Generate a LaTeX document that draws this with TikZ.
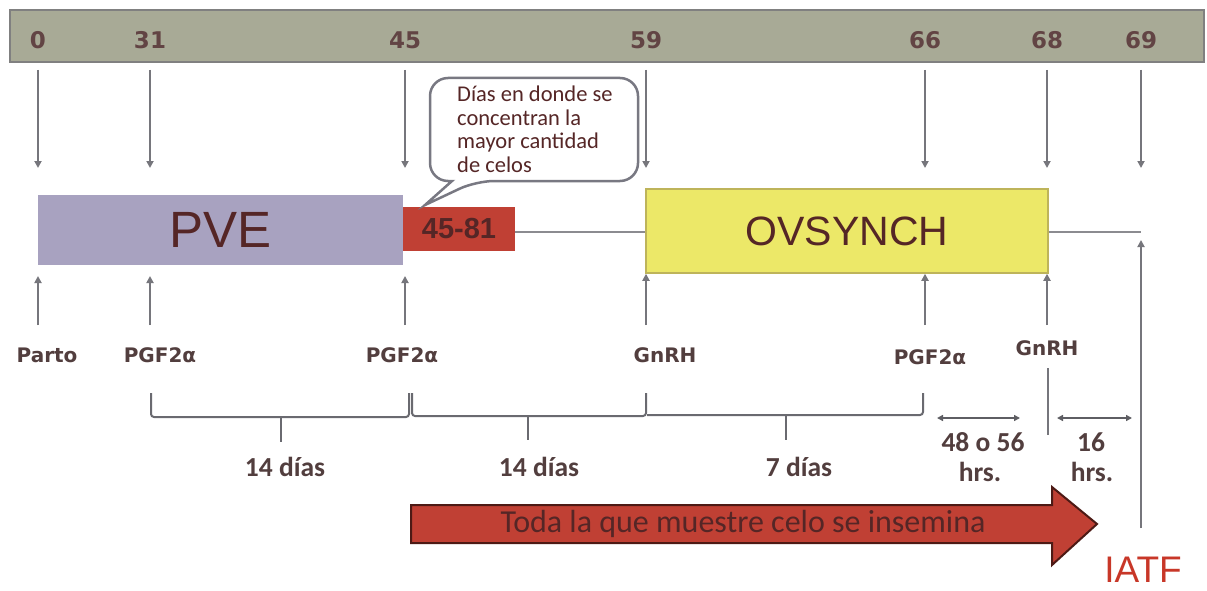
\documentclass[tikz,border=0pt]{standalone}
\usepackage{fontspec}
\setmainfont{Liberation Sans}
\newfontfamily\dvs{DejaVu Sans}
\newfontfamily\calib{Carlito}
\usetikzlibrary{arrows.meta}
\definecolor{barfill}{RGB}{168,170,150}
\definecolor{bardraw}{RGB}{128,128,128}
\definecolor{pvefill}{RGB}{168,162,192}
\definecolor{redfill}{RGB}{192,64,52}
\definecolor{yelfill}{RGB}{236,232,104}
\definecolor{yeldraw}{RGB}{190,180,90}
\definecolor{txtbrown}{RGB}{85,38,38}
\definecolor{labtxt}{RGB}{82,62,62}
\definecolor{numtxt}{RGB}{98,68,68}
\definecolor{arrgray}{RGB}{118,118,124}
\definecolor{iatfred}{RGB}{200,55,40}
\definecolor{callgray}{RGB}{120,120,130}
\begin{document}
\begin{tikzpicture}[x=1pt,y=-1pt,
  num/.style={font=\dvs\bfseries\fontsize{23}{27}\selectfont, text=numtxt},
  lab/.style={font=\dvs\bfseries\fontsize{20}{24}\selectfont, text=labtxt},
  dlab/.style={font=\calib\bfseries\fontsize{27.5}{31}\selectfont, text=labtxt},
  varr/.style={draw=arrgray, line width=1.8pt, -{Triangle[length=7pt,width=7pt]}},
  conn/.style={draw=arrgray!85!white, line width=2.6pt},
  bracestyle/.style={draw=arrgray!90!black, line width=2pt, rounded corners=3pt},
  dbl/.style={draw=arrgray!80!black, line width=1.6pt, {Triangle[length=6pt,width=6pt]}-{Triangle[length=6pt,width=6pt]}},
  box/.style={rectangle, inner sep=0pt}
]
\fill[white] (0,0) rectangle (1207,591);
\useasboundingbox (0,0) rectangle (1207,591);

% top bar
\node[box, fill=barfill, draw=bardraw, line width=2.5pt, minimum width=1194pt, minimum height=52pt] (bar) at (607,36) {};
\foreach \x/\t/\n in {38/0/a,150/31/b,405/45/c,646/59/d,925/66/e,1047/68/f,1141/69/g}{
  \node[num] (n\n) at (\x,40) {\t};
  \coordinate (ds\n) at (\x,70);
  \coordinate (de\n) at (\x,168);
  \draw[varr] (ds\n) -- (de\n);
}

% boxes
\node[box, fill=pvefill, minimum width=365pt, minimum height=70pt,
      font=\fontsize{51}{56}\selectfont, text=txtbrown] (pve) at (220.5,230) {PVE};
\node[box, fill=redfill, minimum width=112pt, minimum height=44pt,
      font=\bfseries\fontsize{29}{32}\selectfont, text=txtbrown] (red) at (459,229) {45-81};
\node[box, fill=yelfill, draw=yeldraw, line width=1.5pt, minimum width=402pt, minimum height=84pt,
      font=\fontsize{41}{46}\selectfont, text=txtbrown] (ovs) at (847,231) {OVSYNCH};

\coordinate (lineend) at (1141,232);
\draw[conn] (red.east |- 0,232) -- (ovs.west |- 0,232);
\draw[conn] (ovs.east |- 0,232) -- (lineend);

% callout
\draw[draw=callgray, fill=white, line width=2.5pt]
  (425,205) -- (452,181) [rounded corners=18pt] -- (430,181) -- (430,78) -- (638,78) -- (638,181) -- (476,181) [sharp corners] -- cycle;
\node[anchor=north west, align=left, inner sep=0pt, text=txtbrown,
      font=\calib\fontsize{22.5}{23.4}\selectfont] (callout) at (457,86)
  {Días en donde se\\concentran la\\mayor cantidad\\de celos};

% up arrows and labels
\foreach \x/\n in {38/a,150/b,405/c}{
  \coordinate (us\n) at (\x,325);
  \coordinate (ue\n) at (\x,276);
  \draw[varr] (us\n) -- (ue\n);
}
\foreach \x/\n in {646/d,925/e,1047/f}{
  \coordinate (us\n) at (\x,325);
  \draw[varr] (us\n) -- (us\n |- ovs.south);
}
\node[lab] (parto) at (47,355) {Parto};
\node[lab] (pgf1) at (160,355) {PGF2α};
\node[lab] (pgf2) at (402,355) {PGF2α};
\node[lab] (gnrh1) at (665,355) {GnRH};
\node[lab] (pgf3) at (930,357) {PGF2α};
\node[lab] (gnrh2) at (1047,348) {GnRH};

\coordinate (gl1) at (1048,368);
\coordinate (gl2) at (1048,435);
\draw[draw=arrgray, line width=1.8pt] (gl1) -- (gl2);

% braces
\draw[bracestyle] (151,393) -- (151,417) -- (409,417) -- (409,393);
\draw[bracestyle] (281,417) -- (281,442);
\draw[bracestyle] (412,393) -- (412,416) -- (646,416) -- (646,393);
\draw[bracestyle] (528,416) -- (528,440);
\draw[bracestyle] (923,393) -- (923,415) -- (647,415);
\draw[bracestyle] (786,415) -- (786,440);

\node[dlab] (d14a) at (285,467) {14 días};
\node[dlab] (d14b) at (539,467) {14 días};
\node[dlab] (d7) at (799,467) {7 días};

% hour spans
\coordinate (h1a) at (937,418);
\coordinate (h1b) at (1020,418);
\coordinate (h2a) at (1057,418);
\coordinate (h2b) at (1132,418);
\draw[dbl] (h1a) -- (h1b);
\draw[dbl] (h2a) -- (h2b);
\node[dlab] (h48) at (983,442) {48 o 56};
\node[dlab] (hrs1) at (980,472) {hrs.};
\node[dlab] (h16) at (1091,442) {16};
\node[dlab] (hrs2) at (1092,472) {hrs.};

% big arrow
\draw[fill=redfill, draw=black!60!redfill, line width=2pt]
  (411,505) -- (1052,505) -- (1052,487) -- (1097,524) -- (1052,565) -- (1052,543) -- (411,543) -- cycle;
\node[text=txtbrown, font=\calib\fontsize{32}{36}\selectfont] (toda) at (743,524)
  {Toda la que muestre celo se insemina};

% IATF
\node[text=iatfred, font=\fontsize{37}{40}\selectfont, inner sep=0pt, anchor=base] (iatf) at (1143,582) {IATF};
\coordinate (iatfstart) at (1141,528);
\draw[varr] (iatfstart) -- (1141,240);

\end{tikzpicture}
\end{document}
